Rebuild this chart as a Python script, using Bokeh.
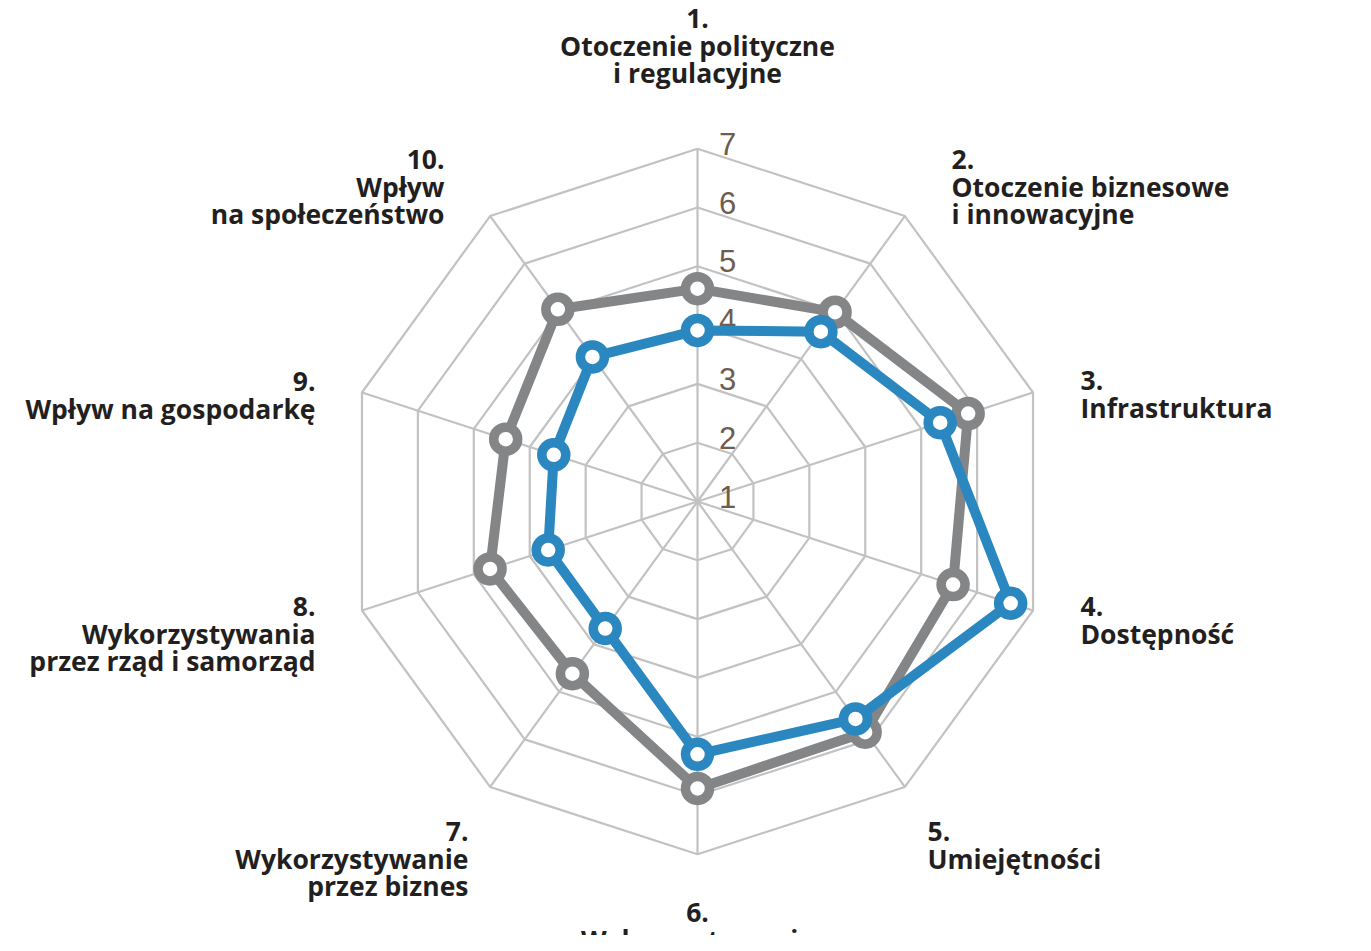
import numpy as np
from bokeh.plotting import figure
from bokeh.models import Range1d
from bokeh.core.properties import value
from bokeh.embed import file_html
from bokeh.resources import INLINE

# ---------------- data ----------------
categories = [
    ["1.", "Otoczenie polityczne", "i regulacyjne"],
    ["2.", "Otoczenie biznesowe", "i innowacyjne"],
    ["3.", "Infrastruktura"],
    ["4.", "Dostępność"],
    ["5.", "Umiejętności"],
    ["6.", "Wykorzystywanie"],
    ["7.", "Wykorzystywanie", "przez biznes"],
    ["8.", "Wykorzystywania", "przez rząd i samorząd"],
    ["9.", "Wpływ na gospodarkę"],
    ["10.", "Wpływ", "na społeczeństwo"],
]
series_gray = [4.62, 4.98, 5.84, 5.57, 5.85, 5.88, 4.62, 4.71, 4.43, 5.04]
series_blue = [3.91, 4.57, 5.34, 6.60, 5.57, 5.30, 3.67, 3.67, 3.57, 4.04]
tick_values = [1, 2, 3, 4, 5, 6, 7]
tick_labels = ["1", "2", "3", "4", "5", "6", "7"]

# ---------------- layout ----------------
W, H = 1355, 935
PX = 58.8            # pixels per scale unit
CX, CY = 697, 501    # pixel position of the centre
VMIN = 1             # value at the centre

GRID = "#c2c2c2"
GRAY = "#848587"
BLUE = "#2a87bf"
TXT = "#231f20"
TICK = "#6e5d4f"


def page_to_data(px, py):
    return (px - CX) / PX, (CY - py) / PX


n = len(categories)
angles = np.pi / 2 - np.arange(n) * 2 * np.pi / n


def polar(vals):
    r = np.asarray(vals, dtype=float) - VMIN
    return r * np.cos(angles), r * np.sin(angles)


x0, y0 = page_to_data(0, 0)
x1, y1 = page_to_data(W, H)
p = figure(width=W, height=H, output_backend="svg", toolbar_location=None,
           x_range=Range1d(x0, x1), y_range=Range1d(y1, y0),
           min_border=0, outline_line_color=None)
p.axis.visible = False
p.grid.visible = False
p.background_fill_color = "white"
p.border_fill_color = "white"

# grid rings
for t in tick_values[1:]:
    gx, gy = polar([t] * n)
    p.line(list(gx) + [gx[0]], list(gy) + [gy[0]], line_color=GRID, line_width=2.2)
# spokes
ox, oy = polar([tick_values[-1]] * n)
p.multi_line([[0, a] for a in ox], [[0, b] for b in oy], line_color=GRID, line_width=2.2)

# tick labels
tx = [30 / PX] * len(tick_values)
ty = [t - VMIN + 5 / PX for t in tick_values]
p.text(tx, ty, text=tick_labels, text_font=value("Liberation Sans"),
       text_font_size="31px", text_color=TICK, text_align="center",
       text_baseline="middle")

# series
for vals, col in ((series_gray, GRAY), (series_blue, BLUE)):
    sx, sy = polar(vals)
    p.line(list(sx) + [sx[0]], list(sy) + [sy[0]], line_color=col,
           line_width=10, line_join="round")
    p.scatter(sx, sy, size=24, fill_color="white", line_color=col,
              line_width=9.5)

# category labels: (anchor x, first line y, align)
label_pos = [
    (697, 18, "center"),
    (951, 159, "left"),
    (1080, 380, "left"),
    (1080, 606, "left"),
    (927, 831, "left"),
    (697, 912, "center"),
    (468, 831, "right"),
    (315, 606, "right"),
    (315, 381, "right"),
    (444, 159, "right"),
]
LH = 27
for lines, (ax, ay, al) in zip(categories, label_pos):
    xs, ys = [], []
    for i, _ in enumerate(lines):
        dx, dy = page_to_data(ax, ay + i * LH)
        xs.append(dx)
        ys.append(dy)
    p.text(xs, ys, text=lines, text_font=value("Open Sans"),
           text_font_style="bold", text_font_size="26.5px", text_color=TXT,
           text_align=al, text_baseline="middle")

open("out.html", "w").write(file_html(p, INLINE))
